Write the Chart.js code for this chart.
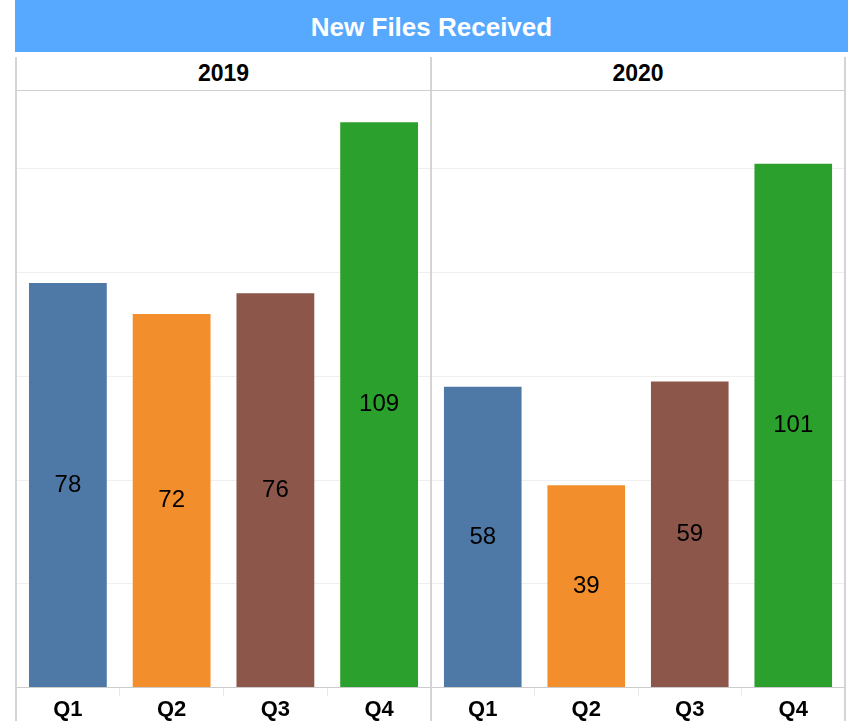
<!DOCTYPE html>
<html><head><meta charset="utf-8">
<script src="https://cdn.jsdelivr.net/npm/chart.js@4/dist/chart.umd.min.js"></script>
<style>
html,body{margin:0;padding:0;background:#fff;overflow:hidden;width:850px;height:721px;font-family:"Liberation Sans",Arial,sans-serif}
#title{position:absolute;left:15px;top:0;width:833px;height:52px;background:#56A9FF;color:#fff;font-weight:bold;font-size:26px;line-height:54px;text-align:center}
.hdr{position:absolute;top:52px;height:39px;line-height:43px;text-align:center;font-weight:bold;font-size:23px;color:#000}
.vline{position:absolute;top:57px;height:670px;width:2px;background:#d4d4d4;z-index:5}
.hline{position:absolute;top:90px;left:16px;width:830px;height:1px;background:#cfcfcf;z-index:5}
.panel{position:absolute;top:91px;height:633px}
</style></head>
<body>
<div id="title">New Files Received</div>
<div class="hdr" id="h0" style="left:16px;width:415px"></div>
<div class="hdr" id="h1" style="left:431px;width:414px"></div>
<div class="vline" style="left:15px"></div>
<div class="vline" style="left:430px"></div>
<div class="vline" style="left:844px"></div>
<div class="hline"></div>
<div class="panel" style="left:16px;width:415px"><canvas id="c0"></canvas></div>
<div class="panel" style="left:431px;width:414px"><canvas id="c1"></canvas></div>
<script>
const categories = ['Q1','Q2','Q3','Q4'];
const years = ['2019','2020'];
const values2019 = [78,72,76,109];
const values2020 = [58,39,59,101];
const barColors = ['#4E79A7','#F28E2B','#8C564B','#2CA02C'];
const yTicks = [0,20,40,60,80,100];
const yMax = 115;

const FONT = '"Liberation Sans", Arial, sans-serif';

const valueLabels = {
  id:'valueLabels',
  afterDatasetsDraw(chart){
    const ctx = chart.ctx;
    const meta = chart.getDatasetMeta(0);
    const data = chart.data.datasets[0].data;
    ctx.save();
    ctx.font = '24px ' + FONT;
    ctx.fillStyle = '#000';
    ctx.textAlign = 'center';
    ctx.textBaseline = 'middle';
    meta.data.forEach((bar,i)=>{
      ctx.fillText(String(data[i]), bar.x, (bar.y + bar.base)/2);
    });
    ctx.restore();
  }
};

function makeChart(id, values){
  return new Chart(document.getElementById(id), {
    type:'bar',
    data:{
      labels:categories,
      datasets:[{data:values, backgroundColor:barColors, borderWidth:0, categoryPercentage:1, barPercentage:0.75}]
    },
    options:{
      responsive:true, maintainAspectRatio:false, animation:false, devicePixelRatio:1,
      layout:{padding:0},
      plugins:{legend:{display:false}, tooltip:{enabled:false}, title:{display:false}},
      scales:{
        x:{
          grid:{display:true, drawOnChartArea:false, drawTicks:true, tickLength:8, color:'#e8e8e8'},
          border:{display:true, color:'#cccccc', width:1},
          ticks:{padding:1, color:'#000', font:{family:FONT, size:22, weight:'bold'}}
        },
        y:{
          min:0, max:yMax,
          afterBuildTicks(scale){ scale.ticks = yTicks.map(v=>({value:v})); },
          grid:{drawTicks:false, color:'#efefef', lineWidth:1},
          border:{display:false},
          ticks:{display:false}
        }
      }
    },
    plugins:[valueLabels]
  });
}
document.getElementById('h0').textContent = years[0];
document.getElementById('h1').textContent = years[1];
makeChart('c0', values2019);
makeChart('c1', values2020);
</script>
</body></html>
